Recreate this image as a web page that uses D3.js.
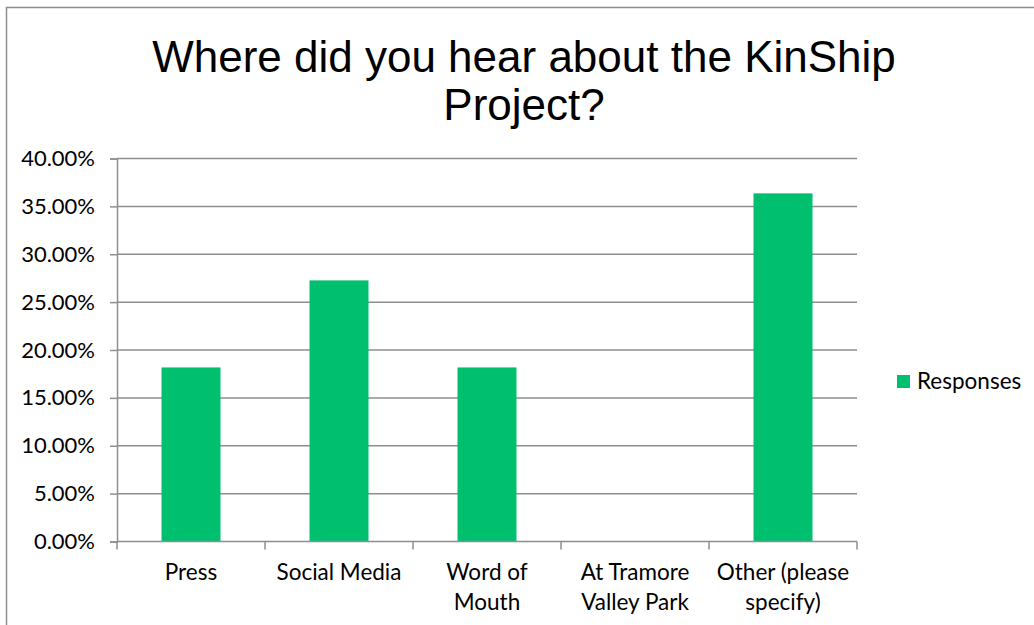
<!DOCTYPE html>
<html>
<head>
<meta charset="utf-8">
<script src="https://cdn.jsdelivr.net/npm/d3@7"></script>
<style>
  html, body { margin: 0; padding: 0; background: #fff; }
  svg { display: block; }
</style>
</head>
<body>
<svg id="chart" width="1034" height="625"></svg>
<script>
const categories = [["Press"], ["Social Media"], ["Word of", "Mouth"], ["At Tramore", "Valley Park"], ["Other (please", "specify)"]];
const values = [0.1818, 0.2727, 0.1818, 0, 0.3636];
const yTicks = [0, 0.05, 0.10, 0.15, 0.20, 0.25, 0.30, 0.35, 0.40];
const seriesName = "Responses";
const titleLines = ["Where did you hear about the KinShip", "Project?"];

const svg = d3.select("#chart");
const green = "#00BF6F";
const gridColor = "#8e8e8e";
const labelFont = "Lato, 'Open Sans', sans-serif";

// outer border
svg.append("rect").attr("x", 6.5).attr("y", 7.5).attr("width", 1100).attr("height", 800)
  .attr("fill", "none").attr("stroke", "#8e8e8e").attr("stroke-width", 1.5);

const pLeft = 117, pRight = 857, pTop = 158.5, pBottom = 541.5;
const x = d3.scaleBand().domain(d3.range(categories.length)).range([pLeft, pRight]).paddingInner(0).paddingOuter(0);
const y = d3.scaleLinear().domain([0, 0.4]).range([pBottom, pTop]);

// title
svg.append("g").selectAll("text").data(titleLines).join("text")
  .attr("x", 524).attr("y", (d, i) => 72 + i * 48)
  .attr("text-anchor", "middle")
  .attr("font-family", "'Liberation Sans', Arial, sans-serif")
  .attr("font-size", 44).attr("fill", "#000").text(d => d);

// gridlines
svg.append("g").selectAll("line").data(yTicks.filter(t => t > 0)).join("line")
  .attr("x1", pLeft).attr("x2", pRight)
  .attr("y1", d => y(d)).attr("y2", d => y(d))
  .attr("stroke", gridColor).attr("stroke-width", 1.5);

// bars
const bw = 59;
svg.append("g").selectAll("rect").data(values).join("rect")
  .attr("x", (d, i) => x(i) + x.bandwidth() / 2 - bw / 2)
  .attr("width", bw)
  .attr("y", d => y(d))
  .attr("height", d => y(0) - y(d))
  .attr("fill", green);

// y axis
const yAxis = d3.axisLeft(y).tickValues(yTicks).tickSize(7).tickPadding(15)
  .tickFormat(d => (d * 100).toFixed(2) + "%");
const gy = svg.append("g").attr("transform", `translate(${pLeft},0)`).call(yAxis);
gy.select(".domain").attr("stroke", gridColor).attr("stroke-width", 1.5);
gy.selectAll(".tick line").attr("stroke", gridColor).attr("stroke-width", 1.5);
gy.selectAll(".tick text").attr("font-family", labelFont).attr("font-size", 22).attr("fill", "#000");

// x axis
const xEdges = d3.range(categories.length + 1).map(i => pLeft + i * x.step());
svg.append("line").attr("x1", pLeft).attr("x2", pRight).attr("y1", pBottom).attr("y2", pBottom)
  .attr("stroke", gridColor).attr("stroke-width", 1.5);
svg.append("g").selectAll("line").data(xEdges).join("line")
  .attr("x1", d => d).attr("x2", d => d).attr("y1", pBottom).attr("y2", pBottom + 8)
  .attr("stroke", gridColor).attr("stroke-width", 1.5);

const xl = svg.append("g").selectAll("text").data(categories).join("text")
  .attr("text-anchor", "middle")
  .attr("font-family", labelFont).attr("font-size", 22.5).attr("fill", "#000");
xl.each(function(lines, i) {
  d3.select(this).selectAll("tspan").data(lines).join("tspan")
    .attr("x", x(i) + x.bandwidth() / 2)
    .attr("y", (d, j) => 580 + j * 30)
    .text(d => d);
});

// legend
svg.append("rect").attr("x", 897).attr("y", 375).attr("width", 13).attr("height", 13).attr("fill", green);
svg.append("text").attr("x", 917).attr("y", 389)
  .attr("font-family", labelFont).attr("font-size", 22.5).attr("fill", "#000").text(seriesName);
</script>
</body>
</html>
